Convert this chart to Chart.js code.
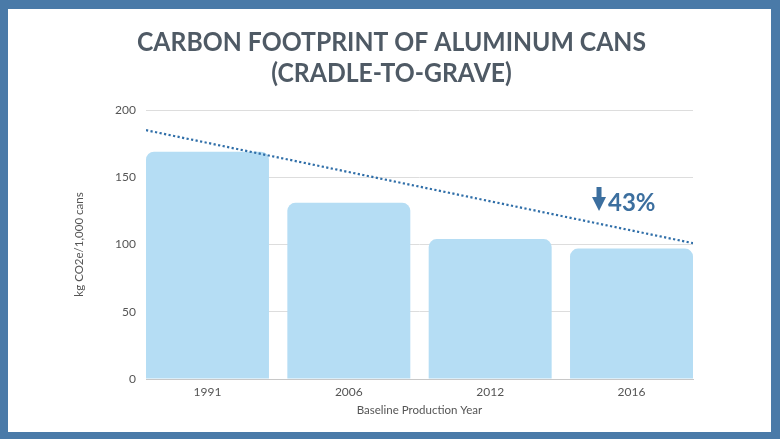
<!DOCTYPE html>
<html>
<head>
<meta charset="utf-8">
<script src="https://cdn.jsdelivr.net/npm/chart.js@4"></script>
<style>
  html, body { margin: 0; padding: 0; }
  body { width: 780px; height: 439px; background: #4a7aa8; position: relative; overflow: hidden; }
  .slide { position: absolute; left: 8px; top: 9px; width: 763px; height: 423px; background: #fff; }
</style>
</head>
<body>
<div class="slide"><canvas id="chart"></canvas></div>
<script>
// values
const years = ['1991', '2006', '2012', '2016'];
const footprint = [169, 131, 104, 97];
// dotted trend line, value at left and right edge of the plot
const trendEnds = [185, 101];
const titleLines = ['CARBON FOOTPRINT OF ALUMINUM CANS', '(CRADLE-TO-GRAVE)'];
const reductionLabel = '43%';

// bars sit flush with the plot edges, so use a numeric x axis
const barFill = 0.87;
const barPoints = footprint.map((v, i) => ({ x: i, y: v }));

const tickFont = { family: 'Lato', size: 12 };
const titleFont = { family: 'Lato', size: 11.5 };
const grey = '#555555';

// two-line condensed title drawn above the plot
const titlePlugin = {
  id: 'slideTitle',
  afterDraw(chart) {
    const ctx = chart.ctx;
    ctx.save();
    ctx.fillStyle = '#4f5a65';
    ctx.font = 'bold 26px Lato';
    ctx.textAlign = 'center';
    ctx.textBaseline = 'alphabetic';
    // squeeze to the width of the condensed original
    const squeeze = 509 / ctx.measureText(titleLines[0]).width;
    const cx = chart.width / 2 + 2;
    [41.5, 73].forEach((y, i) => {
      ctx.save();
      ctx.translate(cx, y);
      ctx.scale(squeeze, 1);
      ctx.fillText(titleLines[i], 0, 0);
      ctx.restore();
    });
    ctx.restore();
  }
};

// down arrow + percentage next to the last bar
const reductionPlugin = {
  id: 'reduction',
  afterDatasetsDraw(chart) {
    const ctx = chart.ctx;
    const x0 = chart.scales.x.getPixelForValue(3) - 39.5;
    const base = chart.scales.y.getPixelForValue(125);
    ctx.save();
    ctx.fillStyle = '#3c6f9f';
    ctx.beginPath();
    ctx.rect(x0 + 4.5, base - 24, 5, 11);
    ctx.moveTo(x0, base - 14);
    ctx.lineTo(x0 + 14, base - 14);
    ctx.lineTo(x0 + 7, base);
    ctx.closePath();
    ctx.fill();
    ctx.font = 'bold 24px Lato';
    ctx.textBaseline = 'alphabetic';
    ctx.fillText(reductionLabel, x0 + 16, base);
    ctx.restore();
  }
};

new Chart(document.getElementById('chart'), {
  type: 'bar',
  data: {
    datasets: [
      {
        type: 'line',
        xAxisID: 'xTrend',
        data: [{ x: 0, y: trendEnds[0] }, { x: 1, y: trendEnds[1] }],
        borderColor: '#2f6ea8',
        borderWidth: 2.2,
        borderDash: [2.2, 2.4],
        pointRadius: 0,
        order: 0,
      },
      {
        type: 'bar',
        data: barPoints,
        backgroundColor: '#b5ddf4',
        borderRadius: { topLeft: 8, topRight: 8, bottomLeft: 0, bottomRight: 0 },
        borderSkipped: 'bottom',
        grouped: false,
        categoryPercentage: 1,
        barPercentage: barFill,
        order: 1,
      },
    ],
  },
  options: {
    responsive: true,
    maintainAspectRatio: false,
    animation: false,
    layout: { padding: { top: 101, left: 60, right: 78, bottom: 15 } },
    plugins: {
      legend: { display: false },
      tooltip: { enabled: false },
    },
    scales: {
      x: {
        type: 'linear',
        offset: false,
        min: -barFill / 2,
        max: years.length - 1 + barFill / 2,
        afterFit(scale) { scale.height = 38; },
        grid: { display: false, drawTicks: false, offset: false },
        border: { display: true, color: '#c8c8c8' },
        ticks: {
          stepSize: 1,
          autoSkip: false,
          includeBounds: false,
          font: tickFont,
          color: grey,
          padding: 6,
          callback: (v) => (Number.isInteger(v) ? years[v] : ''),
        },
        title: {
          display: true,
          text: 'Baseline Production Year',
          font: titleFont,
          color: grey,
          padding: { top: 0, bottom: 0 },
        },
      },
      xTrend: {
        type: 'linear',
        display: false,
        offset: false,
        min: 0,
        max: 1,
      },
      y: {
        min: 0,
        max: 200,
        afterFit(scale) { scale.width = 78; },
        ticks: { stepSize: 50, font: tickFont, color: grey, padding: 10 },
        grid: { color: '#dddddd', drawTicks: false },
        border: { display: false },
        title: {
          display: true,
          text: 'kg CO2e/1,000 cans',
          font: titleFont,
          color: grey,
          padding: { top: 4, bottom: 4 },
        },
      },
    },
  },
  plugins: [titlePlugin, reductionPlugin],
});
</script>
</body>
</html>
